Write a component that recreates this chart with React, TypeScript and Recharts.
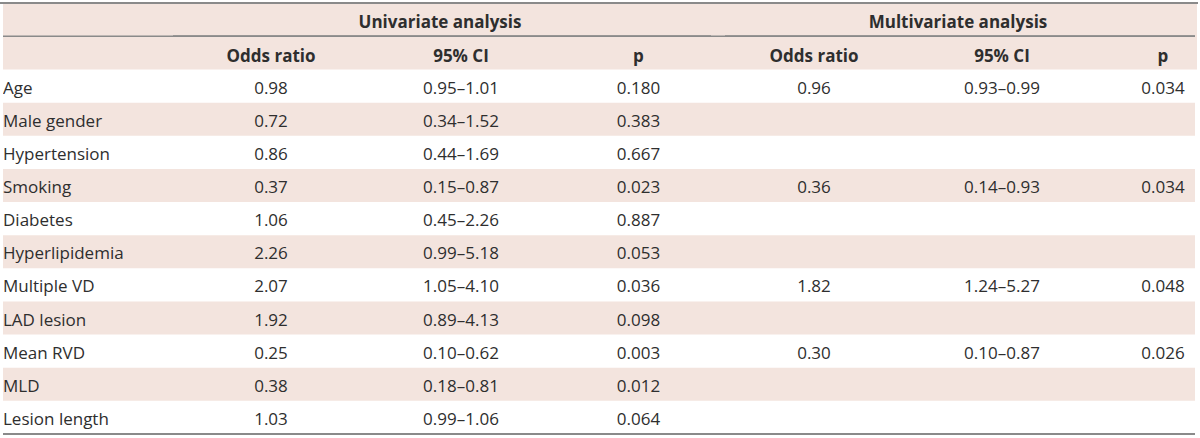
import { ComposedChart, ReferenceArea, Scatter, XAxis, YAxis } from 'recharts';

// Linhas da tabela
const rowLabels = ['Age', 'Male gender', 'Hypertension', 'Smoking', 'Diabetes', 'Hyperlipidemia', 'Multiple VD', 'LAD lesion', 'Mean RVD', 'MLD', 'Lesion length'];

// Univariate analysis
const uniOddsRatio = ['0.98', '0.72', '0.86', '0.37', '1.06', '2.26', '2.07', '1.92', '0.25', '0.38', '1.03'];
const uniCI = ['0.95–1.01', '0.34–1.52', '0.44–1.69', '0.15–0.87', '0.45–2.26', '0.99–5.18', '1.05–4.10', '0.89–4.13', '0.10–0.62', '0.18–0.81', '0.99–1.06'];
const uniP = ['0.180', '0.383', '0.667', '0.023', '0.887', '0.053', '0.036', '0.098', '0.003', '0.012', '0.064'];

// Multivariate analysis (empty = not in model)
const multiOddsRatio = ['0.96', '', '', '0.36', '', '', '1.82', '', '0.30', '', ''];
const multiCI = ['0.93–0.99', '', '', '0.14–0.93', '', '', '1.24–5.27', '', '0.10–0.87', '', ''];
const multiP = ['0.034', '', '', '0.034', '', '', '0.048', '', '0.026', '', ''];

// Layout (x axis runs 1:1 in px across the plot)
const W = 1200;
const H = 438;
const PLOT_LEFT = 3;
const PLOT_RIGHT = 1195;
const FONT = '"Open Sans", sans-serif';
const TEXT = '#2e2e2e';
const PINK = '#f3e4de';
const RULE = '#8a8a8a';

const columns = [
    { key: 'label', head: '', x: PLOT_LEFT, anchor: 'start', values: rowLabels },
    { key: 'uniOR', head: 'Odds ratio', x: 271, anchor: 'middle', values: uniOddsRatio },
    { key: 'uniCI', head: '95% CI', x: 461, anchor: 'middle', values: uniCI },
    { key: 'uniP', head: 'p', x: 638.5, anchor: 'middle', values: uniP },
    { key: 'multiOR', head: 'Odds ratio', x: 814, anchor: 'middle', values: multiOddsRatio },
    { key: 'multiCI', head: '95% CI', x: 1002, anchor: 'middle', values: multiCI },
    { key: 'multiP', head: 'p', x: 1163, anchor: 'middle', values: multiP },
];

const groups = [
    { label: 'Univariate analysis', x: 440, from: 173, to: 711 },
    { label: 'Multivariate analysis', x: 958, from: 725, to: 1195 },
];

const CellText = (props: any) => {
    const { cx, cy, payload } = props;
    return (
        <text x={cx} y={cy + 7.5} textAnchor={payload.anchor} fill={TEXT} fontSize={17} fontFamily={FONT}>
            {payload.text}
        </text>
    );
};

const HeadTick = (props: any) => {
    const { x, payload } = props;
    const col = columns.find(c => c.x === payload.value);
    return (
        <text x={x} y={61.5} textAnchor="middle" fill={TEXT} fontSize={17} fontWeight={700} fontFamily={FONT}>
            {col ? col.head : ''}
        </text>
    );
};

const GroupTick = (props: any) => {
    const { x, payload } = props;
    const g = groups.find(gr => gr.x === payload.value);
    if (!g) return null;
    return (
        <g>
            <text x={x} y={28} textAnchor="middle" fill={TEXT} fontSize={17} fontWeight={700} fontFamily={FONT}>
                {g.label}
            </text>
            <line x1={g.from} x2={g.to} y1={36} y2={36} stroke={RULE} strokeWidth={1.5} />
        </g>
    );
};

export default function App() {
    return (
        <div style={{ width: W, height: H }}>
            <style>{'body{margin:0}'}</style>
            <ComposedChart
                width={W}
                height={H}
                layout="vertical"
                margin={{ top: 3, right: W - PLOT_RIGHT, bottom: 3, left: PLOT_LEFT }}
            >
                <rect x={PLOT_LEFT} y={3} width={W - PLOT_LEFT - 3} height={66.5} fill={PINK} />
                <line x1={0} x2={W - 2} y1={3} y2={3} stroke={RULE} strokeWidth={2} />

                <XAxis
                    dataKey="x"
                    type="number"
                    domain={[PLOT_LEFT, PLOT_RIGHT]}
                    allowDataOverflow
                    orientation="bottom"
                    height={1}
                    tick={false}
                    tickLine={false}
                    axisLine={{ stroke: RULE, strokeWidth: 2 }}
                />
                <XAxis
                    xAxisId="group"
                    type="number"
                    domain={[PLOT_LEFT, PLOT_RIGHT]}
                    allowDataOverflow
                    orientation="top"
                    height={33.25}
                    ticks={groups.map(g => g.x)}
                    interval={0}
                    tick={<GroupTick />}
                    tickLine={false}
                    axisLine={false}
                />
                <XAxis
                    xAxisId="head"
                    type="number"
                    domain={[PLOT_LEFT, PLOT_RIGHT]}
                    allowDataOverflow
                    orientation="top"
                    height={33.25}
                    ticks={columns.filter(c => c.head).map(c => c.x)}
                    interval={0}
                    tick={<HeadTick />}
                    tickLine={false}
                    axisLine={{ stroke: RULE, strokeWidth: 1.5 }}
                />
                <YAxis
                    dataKey="row"
                    type="category"
                    scale="band"
                    allowDuplicatedCategory={false}
                    hide
                />

                {rowLabels.filter((_, i) => i % 2 === 1).map(r => (
                    <ReferenceArea key={r} y1={r} y2={r} fill={PINK} fillOpacity={1} stroke="none" ifOverflow="visible" />
                ))}

                {columns.map(col => (
                    <Scatter
                        key={col.key}
                        data={rowLabels
                            .map((row, i) => ({ row, x: col.x, text: col.values[i], anchor: col.anchor }))
                            .filter(d => d.text !== '')}
                        shape={(p: any) => <CellText {...p} />}
                        isAnimationActive={false}
                    />
                ))}
            </ComposedChart>
        </div>
    );
}
